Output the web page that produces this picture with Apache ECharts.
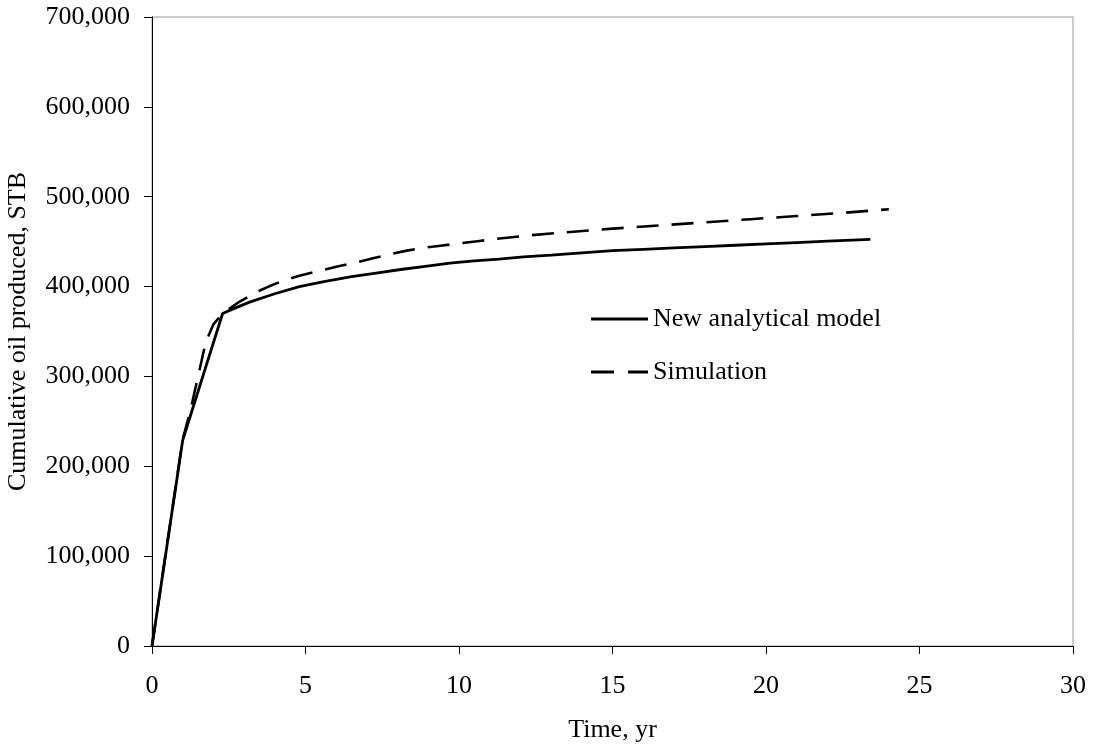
<!DOCTYPE html>
<html>
<head>
<meta charset="utf-8">
<script src="https://cdn.jsdelivr.net/npm/echarts@6/dist/echarts.min.js"></script>
<style>html,body{margin:0;padding:0;background:#fff}#c{width:1094px;height:744px}</style>
</head>
<body>
<div id="c"></div>
<script>
const seriesNames = ['New analytical model', 'Simulation'];
const xTitle = 'Time, yr';
const yTitle = 'Cumulative oil produced, STB';

const modelT = [0, 1.0, 2.3, 2.7, 3.2, 4.0, 4.8, 5.6, 6.5, 7.3, 8.1, 8.9, 9.7, 10.5, 11.3, 12.1, 13, 14, 15, 16, 17, 18, 19, 20, 21, 22, 23.4];
const modelQ = [0, 229000, 370000, 376000, 383000, 392000, 400000, 405500, 411000, 415000, 419000, 422500, 426000, 428500, 430500, 433000, 435000, 437500, 440000, 441500, 443000, 444500, 446000, 447500, 449000, 450500, 452500];

const simT = [0, 0.5, 1.0, 1.25, 1.5, 1.75, 2.0, 2.3, 2.8, 3.4, 3.8, 4.3, 4.8, 5.4, 6.0, 6.6, 7.2, 7.7, 8.3, 8.8, 9.4, 10, 10.6, 11.2, 12.3, 13.5, 15, 16.5, 18, 19.5, 21, 22.5, 24];
const simQ = [0, 115000, 230000, 262000, 300000, 338000, 358000, 370000, 382000, 394000, 400000, 407000, 412000, 417000, 422000, 426500, 431500, 435500, 440000, 443000, 445500, 448000, 450500, 453000, 457000, 460500, 464500, 468000, 471500, 475000, 478500, 482000, 486000];

const font = 'Liberation Serif';
const fs = 26;
const pair = (a, b) => a.map((v, i) => [v, b[i]]);

const chart = echarts.init(document.getElementById('c'), null, {renderer: 'canvas'});
chart.setOption({
  animation: false,
  backgroundColor: '#fff',
  textStyle: {fontFamily: font},
  grid: {left: 152, top: 17, right: 21, bottom: 98, show: true, borderColor: '#999', borderWidth: 1,
         containLabel: false, outerBoundsMode: 'none'},
  legend: {
    orient: 'vertical', left: 586, top: 301,
    itemWidth: 57, itemHeight: 3, itemGap: 27,
    textStyle: {fontFamily: font, fontSize: fs, color: '#000', lineHeight: 26},
    data: [
      {name: seriesNames[0], icon: 'path://M0,0H57V3H0Z', itemStyle: {color: '#000'}},
      {name: seriesNames[1], icon: 'path://M0,0H23V3H0Z M37,0H57V3H37Z', itemStyle: {color: '#000'}}
    ]
  },
  xAxis: {
    type: 'value', min: 0, max: 30, interval: 5,
    name: xTitle, nameLocation: 'middle', nameGap: 71,
    nameTextStyle: {fontFamily: font, fontSize: fs, color: '#000'},
    axisLine: {show: true, onZero: false, lineStyle: {color: '#000', width: 1}},
    axisTick: {show: true, inside: false, length: 8, lineStyle: {color: '#000'}},
    axisLabel: {fontFamily: font, fontSize: fs, color: '#000', margin: 27},
    splitLine: {show: false}
  },
  yAxis: {
    type: 'value', min: 0, max: 700000, interval: 100000,
    name: yTitle, nameLocation: 'middle', nameGap: 121, nameRotate: 90,
    nameTextStyle: {fontFamily: font, fontSize: fs, color: '#000'},
    axisLine: {show: true, lineStyle: {color: '#000', width: 1}},
    axisTick: {show: true, inside: false, length: 8, lineStyle: {color: '#000'}},
    axisLabel: {fontFamily: font, fontSize: fs, color: '#000', margin: 22,
      formatter: v => v.toLocaleString('en-US')},
    splitLine: {show: false}
  },
  series: [
    {name: seriesNames[0], type: 'line', data: pair(modelT, modelQ), showSymbol: false, symbol: 'none',
     lineStyle: {color: '#000', width: 2.8, type: 'solid'}, itemStyle: {color: '#000'}, z: 3},
    {name: seriesNames[1], type: 'line', data: pair(simT, simQ), showSymbol: false, symbol: 'none',
     lineStyle: {color: '#000', width: 2.6, type: [22, 13]}, itemStyle: {color: '#000'}, z: 2}
  ]
});
</script>
</body>
</html>
